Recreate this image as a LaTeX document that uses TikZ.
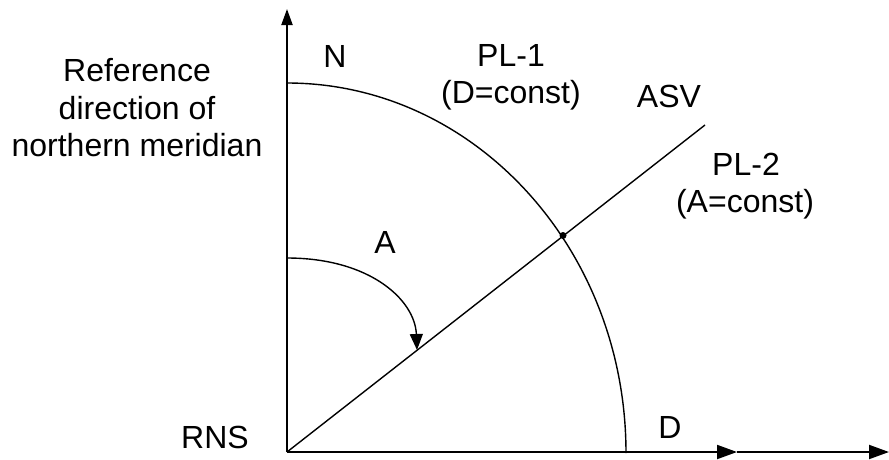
\documentclass[tikz,border=0pt]{standalone}
\usepackage{fontspec}
\setmainfont{Liberation Sans}
\usetikzlibrary{arrows.meta}
\begin{document}
\begin{tikzpicture}[x=1pt,y=1pt,
  lbl/.style={font=\fontsize{32}{37.5}\selectfont, inner sep=0pt, anchor=base},
  lblblock/.style={font=\fontsize{32}{37.5}\selectfont, inner sep=0pt, align=center, anchor=north},
  axis/.style={line width=2pt},
  thin/.style={line width=1.4pt},
  bigtip/.style={-{Triangle[length=20pt,width=14pt]}},
  uptip/.style={-{Triangle[length=16pt,width=11pt]}},
  arctip/.style={-{Triangle[length=16pt,width=13pt]}}]
\useasboundingbox (0,0) rectangle (889,-459);
% geometry points
\coordinate (O) at (287,-452);
\coordinate (Ytop) at (287,-9);
\coordinate (Xmid) at (737,-452);
\coordinate (Xend) at (889,-452);
\coordinate (ASVend) at (705,-125);
\coordinate (Nstart) at (287,-83);
\coordinate (Astart) at (287,-258);
\coordinate (Atip) at (417,-350);
% axes
\draw[axis,uptip] (O) -- (Ytop);
\draw[axis,bigtip] (O) -- (Xmid);
\draw[axis,bigtip] (Xmid) -- (Xend);
% PL-1 arc
\draw[thin] (Nstart) arc[start angle=90,end angle=0,x radius=339,y radius=370];
% ASV line
\draw[thin] (O) -- (ASVend);
% intersection dot
\node[circle,fill=black,inner sep=0pt,minimum size=7pt] (P) at (563,-235.5) {};
% azimuth arc
\draw[thin,arctip] (Astart) .. controls (370,-258) and (415,-300) .. (Atip);
% labels
\node[lblblock] (ref) at (137,-58.5) {Reference\\direction of\\northern meridian};
\node[lbl] (N) at (335,-67) {N};
\node[lbl] (pl1) at (511,-66) {PL-1};
\node[lbl] (dconst) at (511,-103) {(D=const)};
\node[lbl] (asv) at (669,-107) {ASV};
\node[lbl] (pl2) at (746,-175) {PL-2};
\node[lbl] (aconst) at (745,-212) {(A=const)};
\node[lbl] (A) at (385,-253) {A};
\node[lbl] (rns) at (215,-448) {RNS};
\node[lbl] (D) at (670,-438) {D};
\end{tikzpicture}
\end{document}
